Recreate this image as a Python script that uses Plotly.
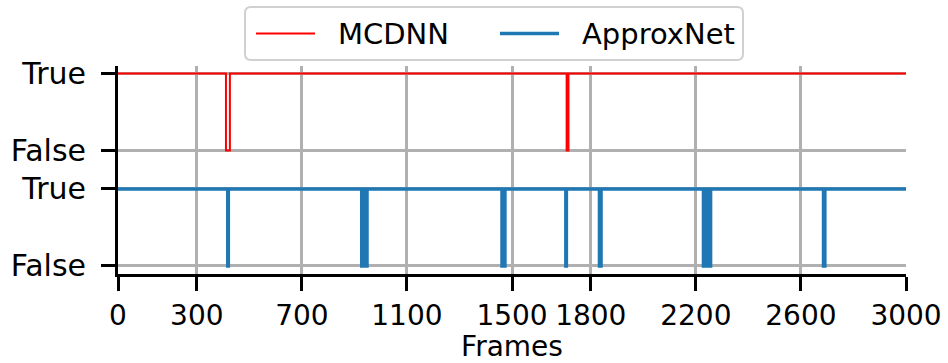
import plotly.graph_objects as go

# Frame range of the run
frame_start = 0
frame_end = 3000

# Intervals (start frame, end frame) during which each model's output was False
mcdnn_false = [(411, 426), (1708, 1715)]
approxnet_false = [
    (418, 420),
    (928, 933), (935, 941), (943, 948),
    (1462, 1466), (1468, 1473),
    (1705, 1707),
    (1833, 1839),
    (2229, 2236), (2238, 2246), (2248, 2256),
    (2686, 2691),
]

# Vertical placement of each series' True/False levels
mcdnn_levels = {"True": 2.5, "False": 1.5}
approxnet_levels = {"True": 1.0, "False": 0.0}

x_ticks = [0, 300, 700, 1100, 1500, 1800, 2200, 2600, 3000]
y_ticks = [0.0, 1.0, 1.5, 2.5]
y_tick_text = ["False", "True", "False", "True"]

series_names = ["MCDNN", "ApproxNet"]
series_colors = ["#ff0000", "#1f77b4"]
series_widths = [2, 3.5]

W, H = 948, 363
M_L, M_R, M_T, M_B = 118, 42, 66, 89
PW, PH = W - M_L - M_R, H - M_T - M_B


def step_series(intervals, levels):
    xs = [frame_start]
    ys = [levels["True"]]
    for s, e in intervals:
        xs += [s, e]
        ys += [levels["False"], levels["True"]]
    xs.append(frame_end)
    ys.append(levels["True"])
    return xs, ys


def px(x):
    return (x - M_L) / PW


def py(y):
    return (H - M_B - y) / PH


mx, my = step_series(mcdnn_false, mcdnn_levels)
ax, ay = step_series(approxnet_false, approxnet_levels)

fig = go.Figure()
for (xs, ys), name, color, width in zip([(mx, my), (ax, ay)], series_names,
                                        series_colors, series_widths):
    fig.add_trace(go.Scatter(x=xs, y=ys, mode="lines", line_shape="hv",
                             line=dict(color=color, width=width), name=name))

font = dict(family="DejaVu Sans", size=28, color="black")

# Legend box with rounded corners, drawn above the plotting area
bx0, by0, bx1, by1, r = 245, 7, 743, 60, 6
legend_path = (
    f"M {px(bx0 + r)} {py(by0)} L {px(bx1 - r)} {py(by0)} "
    f"Q {px(bx1)} {py(by0)} {px(bx1)} {py(by0 + r)} "
    f"L {px(bx1)} {py(by1 - r)} Q {px(bx1)} {py(by1)} {px(bx1 - r)} {py(by1)} "
    f"L {px(bx0 + r)} {py(by1)} Q {px(bx0)} {py(by1)} {px(bx0)} {py(by1 - r)} "
    f"L {px(bx0)} {py(by0 + r)} Q {px(bx0)} {py(by0)} {px(bx0 + r)} {py(by0)} Z"
)
shapes = [dict(type="path", xref="paper", yref="paper", path=legend_path,
               line=dict(color="#d0d0d0", width=2), fillcolor="white", layer="above")]
annotations = []
entry_x = [256, 500]
for ex, name, color, width in zip(entry_x, series_names, series_colors, series_widths):
    shapes.append(dict(type="line", xref="paper", yref="paper",
                       x0=px(ex), x1=px(ex + 59), y0=py(33.5), y1=py(33.5),
                       line=dict(color=color, width=width), layer="above"))
    annotations.append(dict(xref="paper", yref="paper", x=px(ex + 80), y=py(34),
                            xanchor="left", yanchor="middle", text=name,
                            showarrow=False, font=dict(family="DejaVu Sans", size=29,
                                                       color="black")))

fig.update_layout(
    width=W, height=H,
    margin=dict(l=M_L, r=M_R, t=M_T, b=M_B, autoexpand=False),
    paper_bgcolor="white", plot_bgcolor="white",
    font=font,
    showlegend=False,
    shapes=shapes,
    annotations=annotations,
    xaxis=dict(range=[frame_start, frame_end], tickvals=x_ticks,
               ticktext=[str(v) for v in x_ticks], automargin=False,
               showgrid=True, gridcolor="#b0b0b0", gridwidth=2.5,
               zeroline=False, showline=True, linecolor="black", linewidth=3,
               ticks="outside", ticklen=14, tickwidth=3, tickcolor="black",
               tickfont=dict(family="DejaVu Sans", size=28),
               title=dict(text="Frames", standoff=6, font=font)),
    yaxis=dict(range=[-0.104, 2.597], tickvals=y_ticks, ticktext=y_tick_text,
               automargin=False,
               showgrid=True, gridcolor="#b0b0b0", gridwidth=2.5,
               zeroline=False, showline=True, linecolor="black", linewidth=3,
               ticks="outside", ticklen=14, tickwidth=3, tickcolor="black",
               ticklabelstandoff=9, tickfont=dict(family="DejaVu Sans", size=30)),
)

fig.write_html("out.html")
